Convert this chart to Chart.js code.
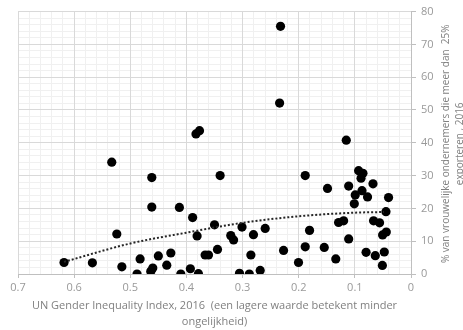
<!DOCTYPE html>
<html lang="nl">
<head>
<meta charset="UTF-8">
<title>Gender Inequality Index vs export</title>
<script src="https://cdn.jsdelivr.net/npm/chart.js@4"></script>
<style>
   html, body { margin: 0; padding: 0; background: #fff; }
   #wrap { width: 463px; height: 330px; position: relative; }
</style>
</head>
<body>
<div id="wrap"><canvas id="myChart"></canvas></div>
<script>
   // country points: UN GII 2016 (x) vs % women entrepreneurs exporting >25% (y)
   const giiValues = [0.618, 0.5675, 0.533, 0.524, 0.515, 0.488, 0.4825, 0.4617, 0.4617, 0.4599,
      0.4635, 0.450, 0.435, 0.4278, 0.4125, 0.410, 0.393, 0.389, 0.383, 0.3767,
      0.381, 0.3786, 0.3667, 0.3607, 0.350, 0.3447, 0.340, 0.321, 0.316, 0.301,
      0.3055, 0.288, 0.2852, 0.2806, 0.2686, 0.2597, 0.2324, 0.234, 0.227, 0.2004,
      0.1884, 0.1884, 0.1807, 0.1545, 0.1487, 0.134, 0.129, 0.120, 0.1153, 0.111,
      0.111, 0.101, 0.0993, 0.0933, 0.0856, 0.089, 0.0873, 0.080, 0.0774, 0.0677,
      0.0667, 0.0636, 0.056, 0.051, 0.0506, 0.0476, 0.0446, 0.044, 0.040];
   const exportShares = [3.5, 3.4, 34.1, 12.2, 2.2, 0, 4.6, 29.4, 20.4, 1.8,
      0.8, 5.5, 2.7, 6.4, 20.3, 0, 1.6, 17.2, 42.7, 43.7,
      11.6, 0.1, 5.8, 5.8, 15.0, 7.5, 30.0, 11.7, 10.4, 14.3,
      0.2, 0, 5.8, 12.0, 1.1, 13.9, 75.5, 52.1, 7.2, 3.5,
      30.0, 8.3, 13.3, 8.1, 26.1, 4.6, 15.7, 16.2, 40.8, 26.8,
      10.7, 21.4, 24.1, 31.5, 30.7, 29.2, 25.4, 6.6, 23.5, 27.5,
      16.2, 5.6, 15.6, 2.6, 11.9, 6.7, 19.0, 12.8, 23.3];

   // dotted trendline
   const trendX = [0.618, 0.5, 0.4, 0.3, 0.2, 0.1, 0.048];
   const trendY = [3.7, 9.3, 12.6, 15.6, 17.6, 18.7, 18.9];

   const xTitleLines = ['UN Gender Inequality Index, 2016  (een lagere waarde betekent minder', 'ongelijkheid)'];
   const yTitleLines = ['% van vrouwelijke ondernemers die meer dan  25%', 'exporteren , 2016'];

   const fontFamily = '"Open Sans", "Liberation Sans", sans-serif';

   const yTitlePlugin = {
      id: 'yTitle',
      afterDraw(chart) {
         const ctx = chart.ctx;
         const area = chart.chartArea;
         ctx.save();
         ctx.translate(446, (area.top + area.bottom) / 2 + 1);
         ctx.rotate(-Math.PI / 2);
         ctx.fillStyle = '#808080';
         ctx.font = '10px ' + fontFamily;
         ctx.textAlign = 'center';
         ctx.textBaseline = 'middle';
         yTitleLines.forEach((line, i) => ctx.fillText(line, 0, i * 14));
         ctx.restore();
      }
   };

   const config = {
      data: {
         datasets: [
            {
               type: 'line',
               data: trendX.map((x, i) => ({ x: x, y: trendY[i] })),
               borderColor: '#262626',
               borderWidth: 2,
               borderDash: [2, 2],
               pointRadius: 0,
               cubicInterpolationMode: 'monotone',
               fill: false,
               order: 0
            },
            {
               type: 'scatter',
               data: giiValues.map((x, i) => ({ x: x, y: exportShares[i] })),
               backgroundColor: '#000000',
               borderColor: '#000000',
               pointRadius: 4.6,
               borderWidth: 0,
               order: 1
            }
         ]
      },
      options: {
         responsive: true,
         maintainAspectRatio: false,
         animation: false,
         events: [],
         layout: { padding: { left: 18, top: 2, right: 0, bottom: 0 } },
         plugins: { legend: { display: false }, tooltip: { enabled: false } },
         scales: {
            xMinor: {
               type: 'linear', position: 'bottom', reverse: true, min: 0, max: 0.7, z: -1,
               ticks: { display: false, stepSize: 0.02 },
               grid: { color: '#f0f0f0', drawTicks: false },
               border: { display: false }
            },
            yMinor: {
               type: 'linear', position: 'right', min: 0, max: 80, z: -1,
               ticks: { display: false, stepSize: 2 },
               grid: { color: '#f0f0f0', drawTicks: false },
               border: { display: false }
            },
            x: {
               type: 'linear',
               position: 'bottom',
               reverse: true,
               min: 0,
               max: 0.7,
               ticks: {
                  stepSize: 0.1,
                  color: '#999999',
                  padding: 3,
                  font: { family: fontFamily, size: 11 },
                  callback: v => (Math.abs(v) < 1e-9 ? '0' : v.toFixed(1))
               },
               grid: { color: '#d9d9d9', tickColor: '#bfbfbf', tickLength: 4 },
               border: { color: '#bfbfbf' },
               title: {
                  display: true,
                  text: xTitleLines,
                  color: '#808080',
                  font: { family: fontFamily, size: 11, lineHeight: 1.45 },
                  padding: { top: 2, bottom: 0 }
               },
               afterFit: scale => { scale.height = 56; }
            },
            y: {
               type: 'linear',
               position: 'right',
               min: 0,
               max: 80,
               ticks: {
                  stepSize: 10,
                  color: '#999999',
                  padding: 5,
                  font: { family: fontFamily, size: 11 }
               },
               grid: { color: '#d9d9d9', tickColor: '#bfbfbf', tickLength: 5 },
               border: { color: '#bfbfbf' },
               afterFit: scale => { scale.width = 52; }
            }
         }
      },
      plugins: [yTitlePlugin]
   };

   const chart = new Chart(document.getElementById('myChart').getContext('2d'), config);
</script>
</body>
</html>
